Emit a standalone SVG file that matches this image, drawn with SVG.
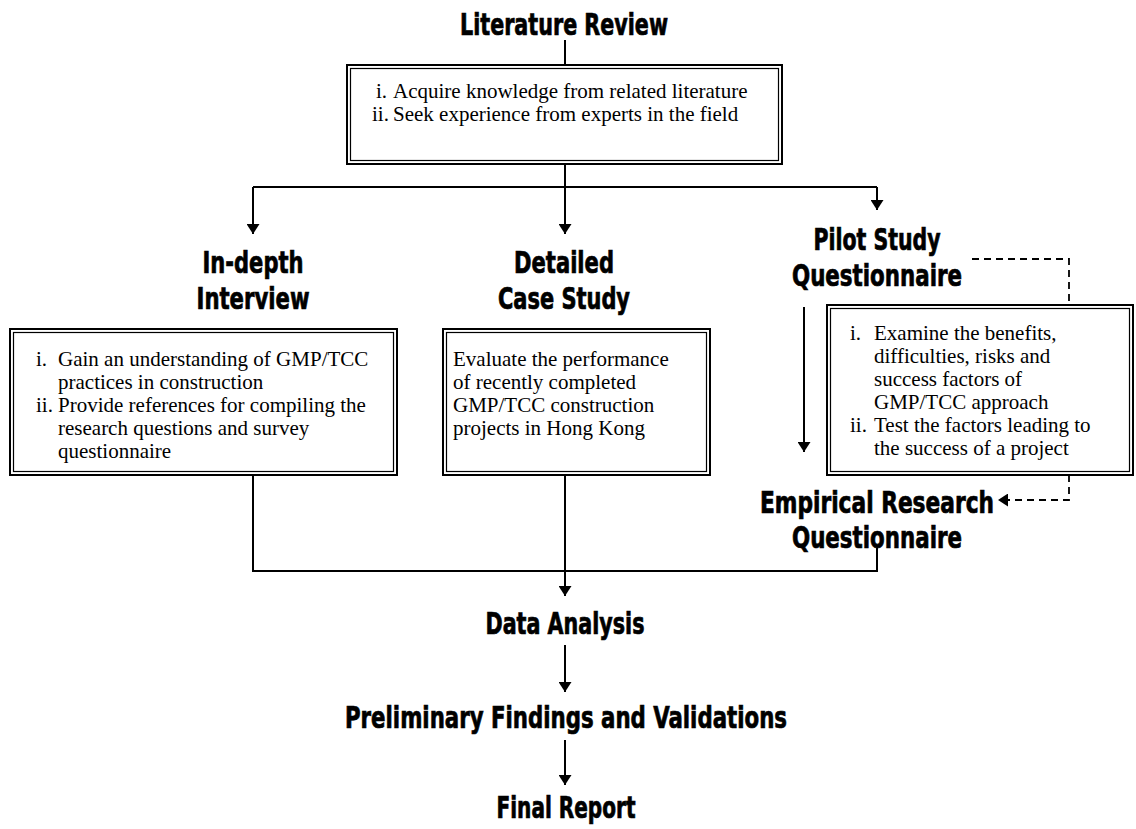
<svg xmlns="http://www.w3.org/2000/svg" width="1136" height="829" viewBox="0 0 1136 829">
  <defs>
    <style>
      .h { font-family: "Liberation Sans Narrow", "DejaVu Sans Condensed", "Liberation Sans", sans-serif; font-weight: bold; font-size: 30px; fill: #000; stroke: #000; stroke-width: 0.7; text-anchor: middle; }
      .t { font-family: "Liberation Serif", "Times New Roman", serif; font-size: 21px; fill: #000; }
      .box-o { fill: #fff; stroke: #000; stroke-width: 2; }
      .box-i { fill: none; stroke: #000; stroke-width: 1.2; }
      .ln { fill: none; stroke: #000; stroke-width: 2; }
      .dash { fill: none; stroke: #000; stroke-width: 1.8; stroke-dasharray: 7 5; }
    </style>
    <marker id="arrow" viewBox="0 0 10 13" refX="10" refY="6.5" markerWidth="10" markerHeight="13" markerUnits="userSpaceOnUse" orient="auto">
      <path d="M0,0 L10,6.5 L0,13 Z" fill="#000"/>
    </marker>
  </defs>

  <rect width="1136" height="829" fill="#fff"/>

  <!-- connectors -->
  <g id="connectors">
    <path class="ln" d="M565 40 V65"/>
    <path class="ln" d="M565 164 V234" marker-end="url(#arrow)"/>
    <path class="ln" d="M253 187 H877"/>
    <path class="ln" d="M253 187 V234" marker-end="url(#arrow)"/>
    <path class="ln" d="M877 187 V210" marker-end="url(#arrow)"/>
    <path class="ln" d="M804 307 V452" marker-end="url(#arrow)"/>
    <path class="dash" d="M972 259 H1069 V305"/>
    <path class="dash" d="M1069 475 V500 H998" marker-end="url(#arrow)"/>
    <path class="ln" d="M253 475 V571 H877 V548"/>
    <path class="ln" d="M565 475 V596" marker-end="url(#arrow)"/>
    <path class="ln" d="M565 645 V692" marker-end="url(#arrow)"/>
    <path class="ln" d="M565 740 V785" marker-end="url(#arrow)"/>
  </g>

  <!-- Literature Review -->
  <g id="literature-review">
    <text class="h" x="564" y="35" textLength="208" lengthAdjust="spacingAndGlyphs">Literature Review</text>
    <rect class="box-o" x="347" y="65" width="435" height="99"/>
    <rect class="box-i" x="350.5" y="68.5" width="428" height="92"/>
    <text class="t" x="376" y="98">i.</text>
    <text class="t" x="393" y="98">Acquire knowledge from related literature</text>
    <text class="t" x="372" y="121">ii.</text>
    <text class="t" x="393" y="121">Seek experience from experts in the field</text>
  </g>

  <!-- In-depth Interview -->
  <g id="in-depth-interview">
    <text class="h" x="253" y="273" textLength="101" lengthAdjust="spacingAndGlyphs">In-depth</text>
    <text class="h" x="253" y="309" textLength="113" lengthAdjust="spacingAndGlyphs">Interview</text>
    <rect class="box-o" x="10" y="329" width="387" height="146"/>
    <rect class="box-i" x="13.5" y="332.5" width="380" height="139"/>
    <text class="t" x="36" y="366">i.</text>
    <text class="t" x="58" y="366">Gain an understanding of GMP/TCC</text>
    <text class="t" x="58" y="389">practices in construction</text>
    <text class="t" x="36" y="412">ii.</text>
    <text class="t" x="58" y="412">Provide references for compiling the</text>
    <text class="t" x="58" y="435">research questions and survey</text>
    <text class="t" x="58" y="458">questionnaire</text>
  </g>

  <!-- Detailed Case Study -->
  <g id="detailed-case-study">
    <text class="h" x="564" y="273" textLength="100" lengthAdjust="spacingAndGlyphs">Detailed</text>
    <text class="h" x="564" y="309" textLength="132" lengthAdjust="spacingAndGlyphs">Case Study</text>
    <rect class="box-o" x="443" y="329" width="267" height="146"/>
    <rect class="box-i" x="446.5" y="332.5" width="260" height="139"/>
    <text class="t" x="453" y="366">Evaluate the performance</text>
    <text class="t" x="453" y="389">of recently completed</text>
    <text class="t" x="453" y="412">GMP/TCC construction</text>
    <text class="t" x="453" y="435">projects in Hong Kong</text>
  </g>

  <!-- Pilot Study Questionnaire -->
  <g id="pilot-study">
    <text class="h" x="877" y="250" textLength="127" lengthAdjust="spacingAndGlyphs">Pilot Study</text>
    <text class="h" x="877" y="286" textLength="170" lengthAdjust="spacingAndGlyphs">Questionnaire</text>
    <rect class="box-o" x="827" y="305" width="306" height="170"/>
    <rect class="box-i" x="830.5" y="308.5" width="299" height="163"/>
    <text class="t" x="850" y="340">i.</text>
    <text class="t" x="874" y="340">Examine the benefits,</text>
    <text class="t" x="874" y="363">difficulties, risks and</text>
    <text class="t" x="874" y="386">success factors of</text>
    <text class="t" x="874" y="409">GMP/TCC approach</text>
    <text class="t" x="850" y="432">ii.</text>
    <text class="t" x="874" y="432">Test the factors leading to</text>
    <text class="t" x="874" y="455">the success of a project</text>
  </g>

  <!-- Empirical Research Questionnaire -->
  <g id="empirical-research">
    <text class="h" x="877" y="513" textLength="234" lengthAdjust="spacingAndGlyphs">Empirical Research</text>
    <text class="h" x="877" y="548" textLength="170" lengthAdjust="spacingAndGlyphs">Questionnaire</text>
  </g>

  <!-- Data Analysis -->
  <g id="data-analysis">
    <text class="h" x="565" y="634" textLength="159" lengthAdjust="spacingAndGlyphs">Data Analysis</text>
  </g>

  <!-- Preliminary Findings and Validations -->
  <g id="preliminary-findings">
    <text class="h" x="566" y="728" textLength="442" lengthAdjust="spacingAndGlyphs">Preliminary Findings and Validations</text>
  </g>

  <!-- Final Report -->
  <g id="final-report">
    <text class="h" x="566" y="818" textLength="139" lengthAdjust="spacingAndGlyphs">Final Report</text>
  </g>
</svg>
